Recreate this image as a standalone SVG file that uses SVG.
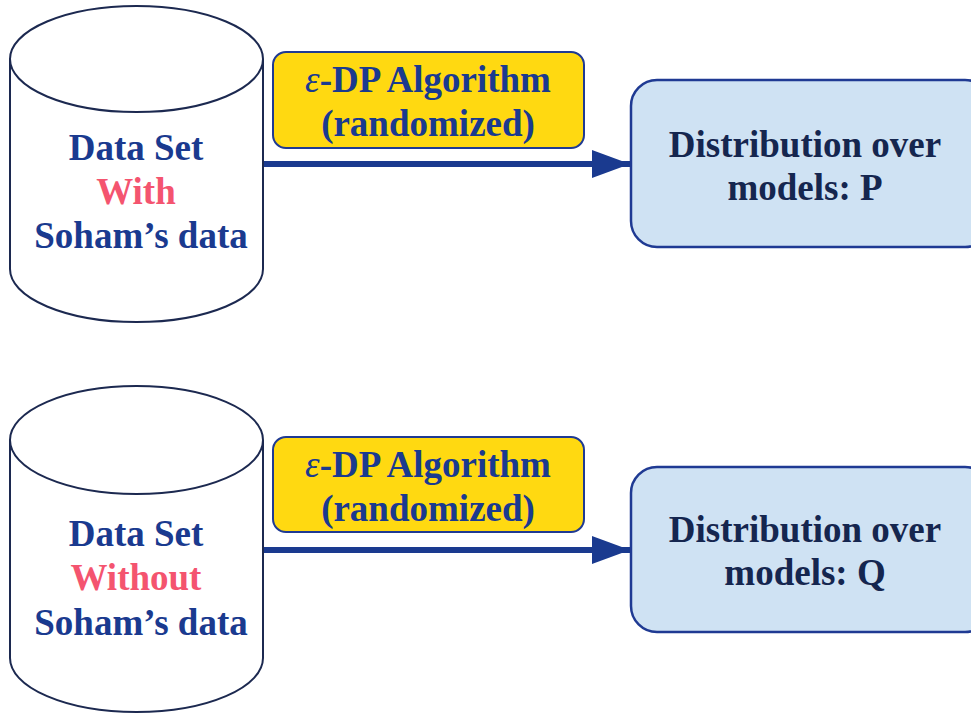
<svg xmlns="http://www.w3.org/2000/svg" width="971" height="714" viewBox="0 0 971 714">
<defs>
<style>
.cyl{fill:#ffffff;stroke:#1c2950;stroke-width:2}
.alg{fill:#ffd911;stroke:#1f3a93;stroke-width:2}
.dist{fill:#cfe2f3;stroke:#1f3a93;stroke-width:2.5}
text{font-family:"Liberation Serif","DejaVu Serif",serif;font-weight:bold;font-size:37px;text-anchor:middle}
.blue{fill:#1a3a8f}
.pink{fill:#f4546f}
.navy{fill:#15264f}
.conn{stroke:#1a3a8f;stroke-width:6;fill:none}
</style>
<marker id="ah" markerWidth="40" markerHeight="28" refX="38" refY="14" orient="auto" markerUnits="userSpaceOnUse">
<path d="M0,0 L38,14 L0,28 Z" fill="#1a3a8f"/>
</marker>
</defs>
<g id="connectors">
<line class="conn" x1="263" y1="164" x2="630" y2="164" marker-end="url(#ah)"/>
<line class="conn" x1="263" y1="550" x2="630" y2="550" marker-end="url(#ah)"/>
</g>
<g id="dataset-with">
<path class="cyl" d="M10,59 L10,269 A126.5,53 0 0 0 263,269 L263,59"/>
<ellipse class="cyl" cx="136.5" cy="59" rx="126.5" ry="53"/>
<text x="136" y="160" class="blue">Data Set</text>
<text x="136" y="204" class="pink">With</text>
<text x="141" y="248" class="blue">Soham’s data</text>
</g>
<g id="alg-top">
<rect class="alg" x="273" y="52" width="311" height="96" rx="13"/>
<text x="428" y="92" class="blue"><tspan font-style="italic" font-weight="normal">ε</tspan>-DP Algorithm</text>
<text x="428" y="136" class="blue">(randomized)</text>
</g>
<g id="dist-p">
<rect class="dist" x="631" y="80" width="360" height="167" rx="26"/>
<text x="805" y="157" class="navy">Distribution over</text>
<text x="805" y="200" class="navy">models: P</text>
</g>
<g id="dataset-without">
<path class="cyl" d="M10,440 L10,658 A126.5,54 0 0 0 263,658 L263,440"/>
<ellipse class="cyl" cx="136.5" cy="440" rx="126.5" ry="54"/>
<text x="136" y="546" class="blue">Data Set</text>
<text x="136" y="590" class="pink">Without</text>
<text x="141" y="635" class="blue">Soham’s data</text>
</g>
<g id="alg-bottom">
<rect class="alg" x="273" y="437" width="311" height="95" rx="13"/>
<text x="428" y="477" class="blue"><tspan font-style="italic" font-weight="normal">ε</tspan>-DP Algorithm</text>
<text x="428" y="521" class="blue">(randomized)</text>
</g>
<g id="dist-q">
<rect class="dist" x="631" y="467" width="360" height="165" rx="26"/>
<text x="805" y="542" class="navy">Distribution over</text>
<text x="805" y="585" class="navy">models: Q</text>
</g>
</svg>
